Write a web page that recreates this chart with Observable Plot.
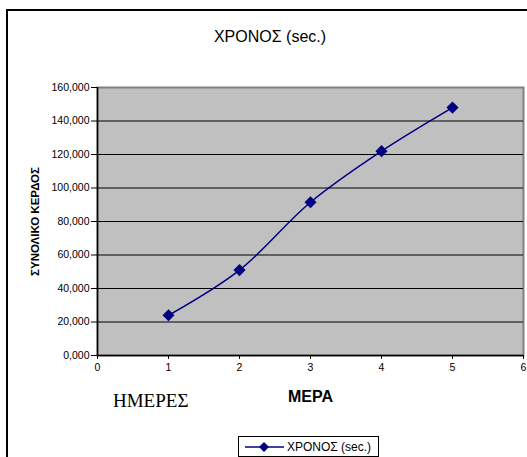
<!DOCTYPE html>
<html>
<head>
<meta charset="utf-8">
<script src="https://cdn.jsdelivr.net/npm/d3@7"></script>
<script src="https://cdn.jsdelivr.net/npm/@observablehq/plot@0.6"></script>
<style>
  html, body { margin: 0; padding: 0; background: #fff; overflow: hidden; }
  #wrap { position: relative; width: 527px; height: 457px; font-family: "Liberation Sans", Arial, sans-serif; }
  #frame { position: absolute; left: 6px; top: 9px; width: 700px; height: 700px; border: 2px solid #000; box-sizing: border-box; }
  #chart { position: absolute; left: 0; top: 0; }
  #title { position: absolute; left: 0; width: 540px; top: 28px; text-align: center; font-size: 16px; color: #000; }
  #days { position: absolute; left: 113px; top: 390px; font-family: "Liberation Serif", "Times New Roman", serif; font-size: 19px; color: #000; }
  #legend { position: absolute; left: 238px; top: 436px; width: 141px; height: 21px; border: 1px solid #000; box-sizing: border-box; background: #fff; }
  #legend svg { position: absolute; left: 0; top: 0; }
  #legend span { position: absolute; left: 48px; top: 3px; font-size: 12px; white-space: nowrap; }
</style>
</head>
<body>
<div id="wrap">
  <div id="frame"></div>
  <div id="chart"></div>
  <div id="title"></div>
  <div id="days"></div>
  <div id="legend"></div>
</div>
<script>
// Day number and total time per day
const days = [1, 2, 3, 4, 5];
const times = [24, 51, 91.5, 122, 148];
const seriesName = "ΧΡΟΝΟΣ (sec.)";
const xTicks = [0, 1, 2, 3, 4, 5, 6];
const yTicks = [0, 20, 40, 60, 80, 100, 120, 140, 160];
const gridValues = [20, 40, 60, 80, 100, 120, 140];
const xTitle = "ΜΕΡΑ";
const yTitle = "ΣΥΝΟΛΙΚΟ ΚΕΡΔΟΣ";
const daysLabel = "ΗΜΕΡΕΣ";

const data = days.map((d, i) => ({day: d, time: times[i]}));
const fmt = v => d3.format(".3f")(v).replace(".", ",");
const navy = "#000080";

const chart = Plot.plot({
  width: 527,
  height: 457,
  marginLeft: 97,
  marginRight: 4,
  marginTop: 87,
  marginBottom: 102,
  style: {fontFamily: "'Liberation Sans', Arial, sans-serif", fontSize: "10.5px", background: "transparent", color: "#000"},
  x: {domain: [0, 6], ticks: xTicks, tickFormat: d => String(d), tickSize: 4, tickPadding: 4, label: null},
  y: {domain: [0, 160], ticks: yTicks, tickFormat: fmt, tickSize: 6, tickPadding: 2, label: null},
  marks: [
    Plot.frame({fill: "#c0c0c0", stroke: "#808080", strokeWidth: 2}),
    Plot.ruleY(gridValues, {stroke: "#000", strokeWidth: 1}),
    Plot.ruleX([0], {stroke: "#000", strokeWidth: 1.5}),
    Plot.ruleY([0], {stroke: "#000", strokeWidth: 1.5}),
    Plot.axisX({ticks: xTicks, tickFormat: d => String(d), tickSize: 4, tickPadding: 4, stroke: "#000"}),
    Plot.axisY({ticks: yTicks, tickFormat: fmt, tickSize: 6, tickPadding: 2, stroke: "#000"}),
    Plot.line(data, {x: "day", y: "time", stroke: navy, strokeWidth: 1.5, curve: "catmull-rom"}),
    Plot.dot(data, {x: "day", y: "time", symbol: "diamond2", r: 4.5, fill: navy, stroke: navy}),
    Plot.text([xTitle], {frameAnchor: "bottom", dy: 46, fontWeight: "bold", fontSize: 16, fill: "#000"}),
    Plot.text([yTitle], {frameAnchor: "left", textAnchor: "middle", dx: -62, rotate: -90, fontWeight: "bold", fontSize: 11.5, fill: "#000"})
  ]
});
document.getElementById("chart").appendChild(chart);
document.getElementById("title").textContent = seriesName;
document.getElementById("days").textContent = daysLabel;

// legend: line with diamond marker and series name
const lg = document.getElementById("legend");
const svgNS = "http://www.w3.org/2000/svg";
const ls = document.createElementNS(svgNS, "svg");
ls.setAttribute("width", 48);
ls.setAttribute("height", 20);
const ln = document.createElementNS(svgNS, "line");
ln.setAttribute("x1", 6); ln.setAttribute("x2", 45);
ln.setAttribute("y1", 10); ln.setAttribute("y2", 10);
ln.setAttribute("stroke", navy); ln.setAttribute("stroke-width", 1.5);
ls.appendChild(ln);
const dm = document.createElementNS(svgNS, "path");
dm.setAttribute("d", d3.symbol(d3.symbolDiamond2, Math.PI * 4.5 * 4.5)());
dm.setAttribute("transform", "translate(25,10)");
dm.setAttribute("fill", navy);
ls.appendChild(dm);
lg.appendChild(ls);
const lt = document.createElement("span");
lt.textContent = seriesName;
lg.appendChild(lt);
</script>
</body>
</html>
